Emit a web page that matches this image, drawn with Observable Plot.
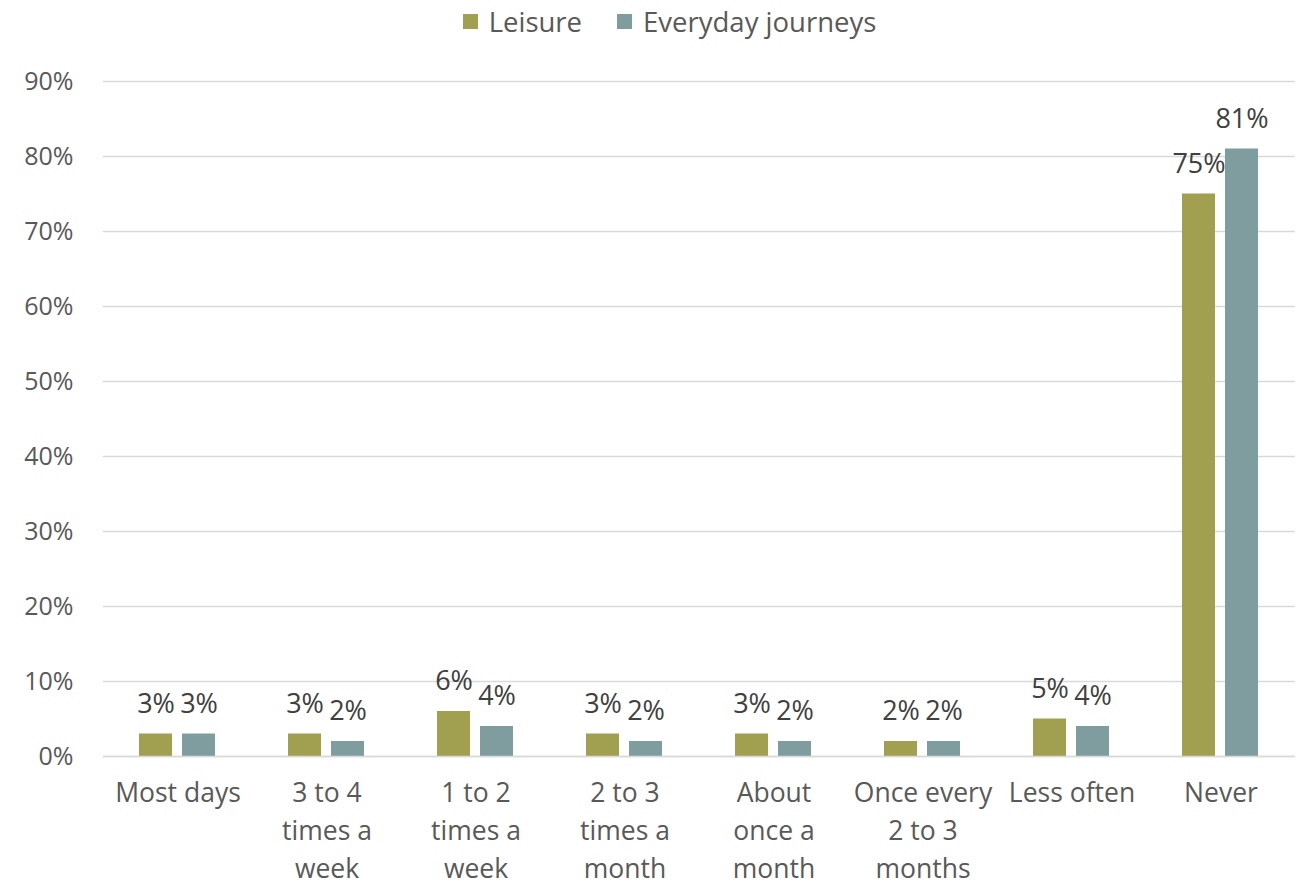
<!DOCTYPE html>
<html><head><meta charset="utf-8">
<script src="https://cdn.jsdelivr.net/npm/d3@7"></script>
<script src="https://cdn.jsdelivr.net/npm/@observablehq/plot@0.6"></script>
<style>
body{margin:0;background:#fff;font-family:"Open Sans",sans-serif;}
#legend{height:42px;display:flex;justify-content:center;align-items:center;gap:35px;font-size:27.5px;color:#595959;padding-left:37px;box-sizing:border-box;}
#legend span.sw{display:inline-block;width:15px;height:15px;margin-right:11px;}
#legend div{display:flex;align-items:center;}
</style></head>
<body>
<div id="legend"></div>
<div id="chart"></div>
<script>
const categories = ["Most days","3 to 4 times a week","1 to 2 times a week","2 to 3 times a month","About once a month","Once every 2 to 3 months","Less often","Never"];
const categoryLabels = ["Most days","3 to 4\ntimes a\nweek","1 to 2\ntimes a\nweek","2 to 3\ntimes a\nmonth","About\nonce a\nmonth","Once every\n2 to 3\nmonths","Less often","Never"];
const series = ["Leisure","Everyday journeys"];
const leisure = [3,3,6,3,3,2,5,75];
const everyday = [3,2,4,2,2,2,4,81];
const colors = ["#A0A050","#7F9C9F"];
const yTicks = [0,10,20,30,40,50,60,70,80,90];

const data = [];
categories.forEach((c,i)=>{
  data.push({cat:c, series:series[0], value:leisure[i]});
  data.push({cat:c, series:series[1], value:everyday[i]});
});

const lg = document.getElementById("legend");
series.forEach((s,i)=>{
  const d = document.createElement("div");
  d.innerHTML = `<span class="sw" style="background:${colors[i]}"></span>${s}`;
  lg.appendChild(d);
});

const labelMap = new Map(categories.map((c,i)=>[c,categoryLabels[i]]));

const chart = Plot.plot({
  width: 1302,
  height: 845,
  marginLeft: 102,
  marginRight: 6,
  marginTop: 39,
  marginBottom: 131,
  style: {fontFamily: "'Open Sans', sans-serif", background: "#fff"},
  fx: {domain: categories, padding: 0, label: null, axis: null},
  x: {domain: series, paddingInner: 0.227, paddingOuter: 0.807, axis: null},
  y: {domain: [0, 90], label: null},
  color: {domain: series, range: colors},
  marks: [
    Plot.gridY(yTicks, {stroke: "#d9d9d9", strokeOpacity: 1, strokeWidth: 1.3}),
    Plot.axisY(yTicks, {tickSize: 0, tickPadding: 30, tickFormat: d => d + "%", fontSize: 25, fill: "#595959"}),
    Plot.axisFx({anchor: "bottom", tickSize: 0, tickPadding: 19, tickFormat: d => labelMap.get(d), fontSize: 26.5, lineHeight: 1.43, lineAnchor: "top", fill: "#595959", label: null}),
    Plot.barY(data, {fx: "cat", x: "series", y: "value", fill: "series"}),
    Plot.ruleY([0], {stroke: "#d9d9d9", strokeWidth: 1.3}),
    Plot.text(data, {fx: "cat", x: "series", y: "value", text: d => d.value + "%", dy: -30, fontSize: 27, fill: "#404040"})
  ]
});
document.getElementById("chart").appendChild(chart);
</script>
</body></html>
